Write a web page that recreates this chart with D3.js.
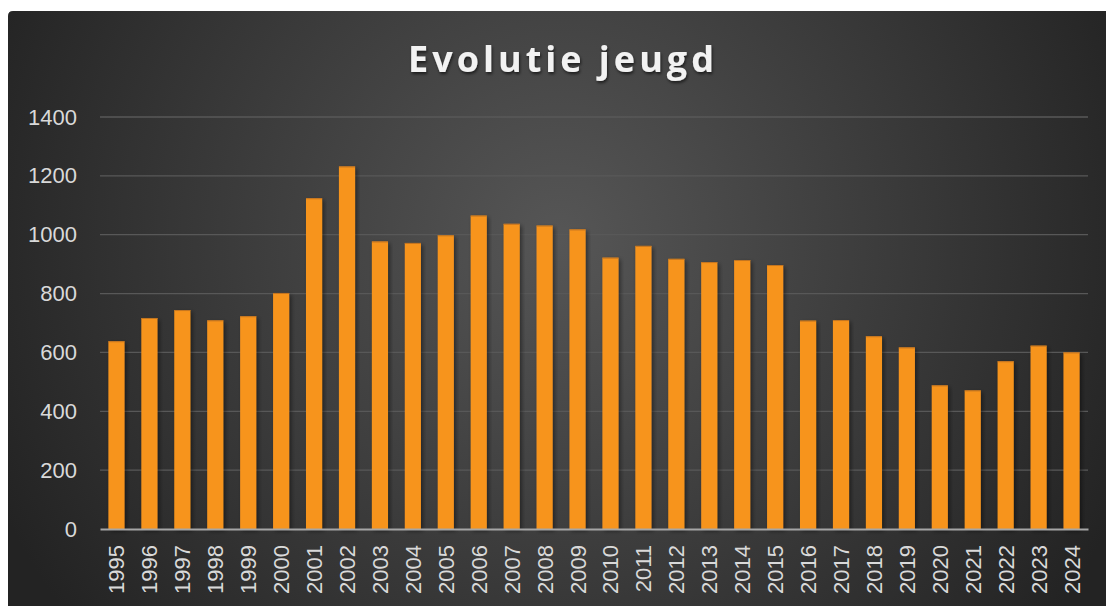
<!DOCTYPE html>
<html><head><meta charset="utf-8">
<script src="https://cdn.jsdelivr.net/npm/d3@7"></script>
<style>html,body{margin:0;padding:0;background:#fff;}svg{display:block;}</style>
</head><body>
<script>
const years = ["1995","1996","1997","1998","1999","2000","2001","2002","2003","2004","2005","2006","2007","2008","2009","2010","2011","2012","2013","2014","2015","2016","2017","2018","2019","2020","2021","2022","2023","2024"];
const values = [638,717,744,709,723,802,1124,1232,977,972,998,1065,1037,1031,1018,922,962,918,907,914,897,708,710,655,617,488,471,570,623,600];
const yTicks = [0,200,400,600,800,1000,1200,1400];
const title = "Evolutie jeugd";

const W = 1106, H = 606;
const svg = d3.select("body").append("svg").attr("width", W).attr("height", H);
const defs = svg.append("defs");
const grad = defs.append("radialGradient").attr("id","bg").attr("gradientUnits","userSpaceOnUse")
  .attr("cx",560).attr("cy",240).attr("r",620);
grad.append("stop").attr("offset","0%").attr("stop-color","#565656");
grad.append("stop").attr("offset","100%").attr("stop-color","#232323");
const sh = defs.append("filter").attr("id","sh").attr("x","-30%").attr("y","-10%").attr("width","160%").attr("height","130%");
sh.append("feDropShadow").attr("dx",2).attr("dy",2).attr("stdDeviation",2).attr("flood-color","#000").attr("flood-opacity",0.45);
const tsh = defs.append("filter").attr("id","tsh");
tsh.append("feDropShadow").attr("dx",1).attr("dy",2).attr("stdDeviation",1.5).attr("flood-color","#000").attr("flood-opacity",0.6);

svg.append("path").attr("fill","url(#bg)")
  .attr("d", `M8,16 Q8,11 13,11 L${W},11 L${W},${H} L8,${H} Z`);

const x = d3.scaleBand().domain(years).range([100,1088]).paddingInner(0.51).paddingOuter(0.255);
const y = d3.scaleLinear().domain([0,1400]).range([529,117]);

// gridlines
const yAxis = d3.axisLeft(y).tickValues(yTicks).tickSize(0).tickPadding(23).tickFormat(d3.format("d"));
const ga = svg.append("g").attr("transform","translate(100,0)").call(yAxis);
ga.select(".domain").remove();
ga.selectAll("text").attr("fill","#d9d9d9").style("font-family","'Liberation Sans', Arial, sans-serif").style("font-size","22px");
svg.append("g").selectAll("line").data(yTicks.filter(d=>d>0)).join("line")
  .attr("x1",100).attr("x2",1088).attr("y1",d=>y(d)).attr("y2",d=>y(d))
  .attr("stroke","#585858").attr("stroke-width",1.3);

// bars
svg.append("g").selectAll("rect").data(values).join("rect")
  .attr("x",(d,i)=>x(years[i])).attr("width",x.bandwidth())
  .attr("y",d=>y(d)).attr("height",d=>y(0)-y(d))
  .attr("fill","#f7941f").attr("filter","url(#sh)");
svg.append("g").selectAll("line").data(values).join("line")
  .attr("x1",(d,i)=>x(years[i])).attr("x2",(d,i)=>x(years[i])+x.bandwidth())
  .attr("y1",d=>y(d)+0.5).attr("y2",d=>y(d)+0.5).attr("stroke","#c47520").attr("stroke-width",1);

// x axis
const xAxis = d3.axisBottom(x).tickSize(0).tickPadding(0);
const gx = svg.append("g").attr("transform","translate(0,529)").call(xAxis);
gx.select(".domain").attr("stroke","#a6a6a6").attr("stroke-width",2);
gx.selectAll("text").attr("fill","#d9d9d9").style("font-family","'Liberation Sans', Arial, sans-serif").style("font-size","22px")
  .attr("text-anchor","end").attr("dy",null).attr("y",0)
  .attr("transform","translate(8,16) rotate(-90)");

svg.append("text").text(title).attr("x",563).attr("y",72).attr("text-anchor","middle")
  .attr("fill","#f2f2f2").style("font-family","'Open Sans', sans-serif").style("font-weight","700")
  .style("font-size","36px").style("letter-spacing","4px").attr("filter","url(#tsh)");
</script>
</body></html>
